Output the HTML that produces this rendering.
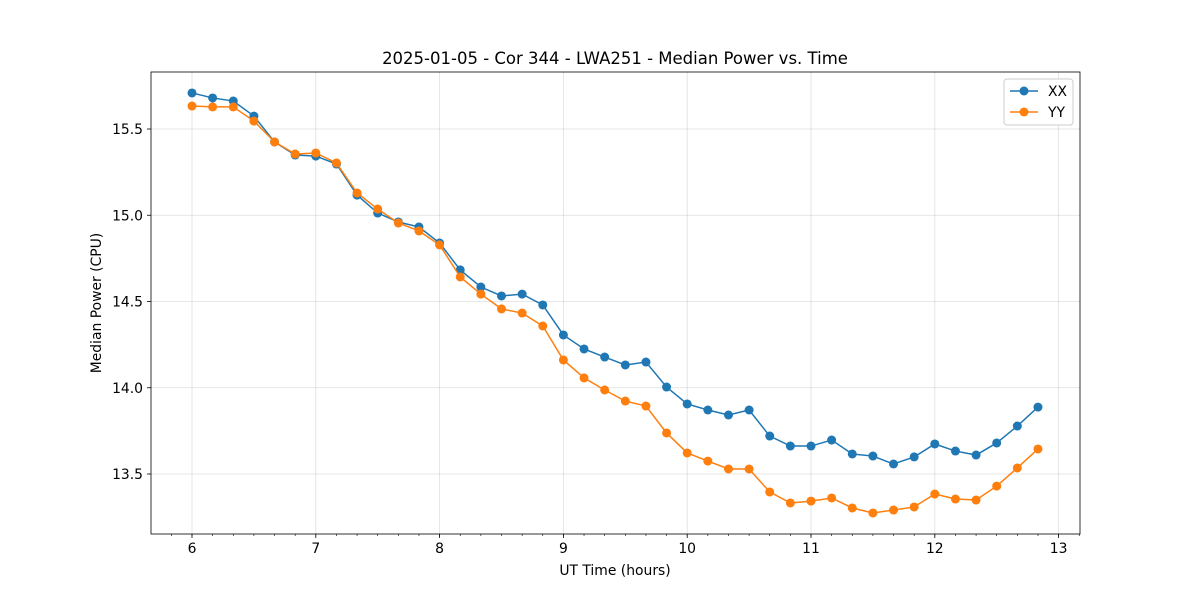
<!DOCTYPE html>
<html><head><meta charset="utf-8"><style>body{margin:0;background:#fff}svg{font-family:"DejaVu Sans","Liberation Sans",sans-serif}</style></head>
<body>
<svg id="chart" width="1200" height="600"></svg>
<script>
const xxValues=[15.709,15.680,15.662,15.575,15.425,15.349,15.343,15.297,15.117,15.013,14.961,14.932,14.839,14.683,14.584,14.532,14.543,14.480,14.306,14.225,14.178,14.132,14.149,14.004,13.906,13.871,13.842,13.871,13.720,13.662,13.662,13.697,13.616,13.604,13.558,13.599,13.674,13.633,13.610,13.680,13.778,13.888];
const yyValues=[15.633,15.628,15.628,15.546,15.425,15.355,15.361,15.303,15.129,15.036,14.955,14.909,14.828,14.642,14.543,14.457,14.433,14.358,14.161,14.057,13.987,13.923,13.894,13.738,13.622,13.575,13.529,13.529,13.396,13.332,13.343,13.361,13.303,13.274,13.291,13.309,13.384,13.355,13.349,13.430,13.535,13.645];
const xTicks=[6,7,8,9,10,11,12,13];
const yTicks=[13.5,14.0,14.5,15.0,15.5];
const NS="http://www.w3.org/2000/svg";
const svg=document.getElementById('chart');
const L=151,R=1080,T=72,B=534;
const sx=v=>192+(v-6)*123.8;
const sy=v=>129+(15.5-v)*172.5;
function mk(t,a,p){const e=document.createElementNS(NS,t);for(const k in a)e.setAttribute(k,a[k]);(p||svg).appendChild(e);return e;}
xTicks.forEach(t=>{const l=mk('line',{x1:sx(t),x2:sx(t),y1:T,y2:B,stroke:'#b0b0b0','stroke-width':0.8,'stroke-opacity':0.4});

});
yTicks.forEach(t=>{const l=mk('line',{x1:L,x2:R,y1:sy(t),y2:sy(t),stroke:'#b0b0b0','stroke-width':0.8,'stroke-opacity':0.4});

});
for(let m=5.5;m<=13.2;m+=1/6){const x=sx(m);if(x<L||x>R)continue;const l=mk('line',{x1:x,x2:x,y1:B,y2:B+2,stroke:'#000','stroke-width':0.6});

}
xTicks.forEach(t=>{mk('line',{x1:sx(t),x2:sx(t),y1:B,y2:B+4,stroke:'#000','stroke-width':0.8});
const tx=mk('text',{x:sx(t),y:B+19,'text-anchor':'middle','font-size':13.9});tx.textContent=t;

});
yTicks.forEach(t=>{mk('line',{x1:L-4,x2:L,y1:sy(t),y2:sy(t),stroke:'#000','stroke-width':0.8});
const tx=mk('text',{x:L-8,y:sy(t)+5,'text-anchor':'end','font-size':13.9});tx.textContent=t.toFixed(1);

});
function series(vals,color,name){
 const pts=vals.map((v,i)=>[sx(6+i/6),sy(v)]);
 const pl=mk('polyline',{points:pts.map(p=>p.join(',')).join(' '),fill:'none',stroke:color,'stroke-width':1.5});
 
 
 pts.forEach(p=>{const c=mk('circle',{cx:p[0],cy:p[1],r:4.5,fill:color});
 
 });
}
series(xxValues,'#1f77b4','xx');
series(yyValues,'#ff7f0e','yy');
const fr=mk('rect',{x:L,y:T,width:R-L,height:B-T,fill:'none',stroke:'#000','stroke-width':0.8});


const ti=mk('text',{x:615,y:64,'text-anchor':'middle','font-size':16.5});ti.textContent='2025-01-05 - Cor 344 - LWA251 - Median Power vs. Time';


const xl=mk('text',{x:615,y:575,'text-anchor':'middle','font-size':13.9});xl.textContent='UT Time (hours)';


const yl=mk('text',{x:101,y:303,'text-anchor':'middle','font-size':13.9,transform:'rotate(-90 101 303)'});yl.textContent='Median Power (CPU)';


const lg=mk('g',{});


mk('rect',{x:1004,y:79,width:69,height:46,rx:3,fill:'#fff',stroke:'#ccc'},lg);
[['XX','#1f77b4',91],['YY','#ff7f0e',112]].forEach(([n,c,y])=>{
 const g=mk('g',{},lg);
 
 
 mk('line',{x1:1010,x2:1038,y1:y,y2:y,stroke:c,'stroke-width':1.5},g);
 mk('circle',{cx:1024,cy:y,r:4.5,fill:c},g);
 const t=mk('text',{x:1048,y:y+5,'font-size':13.9},g);t.textContent=n;});
</script>
</body></html>
